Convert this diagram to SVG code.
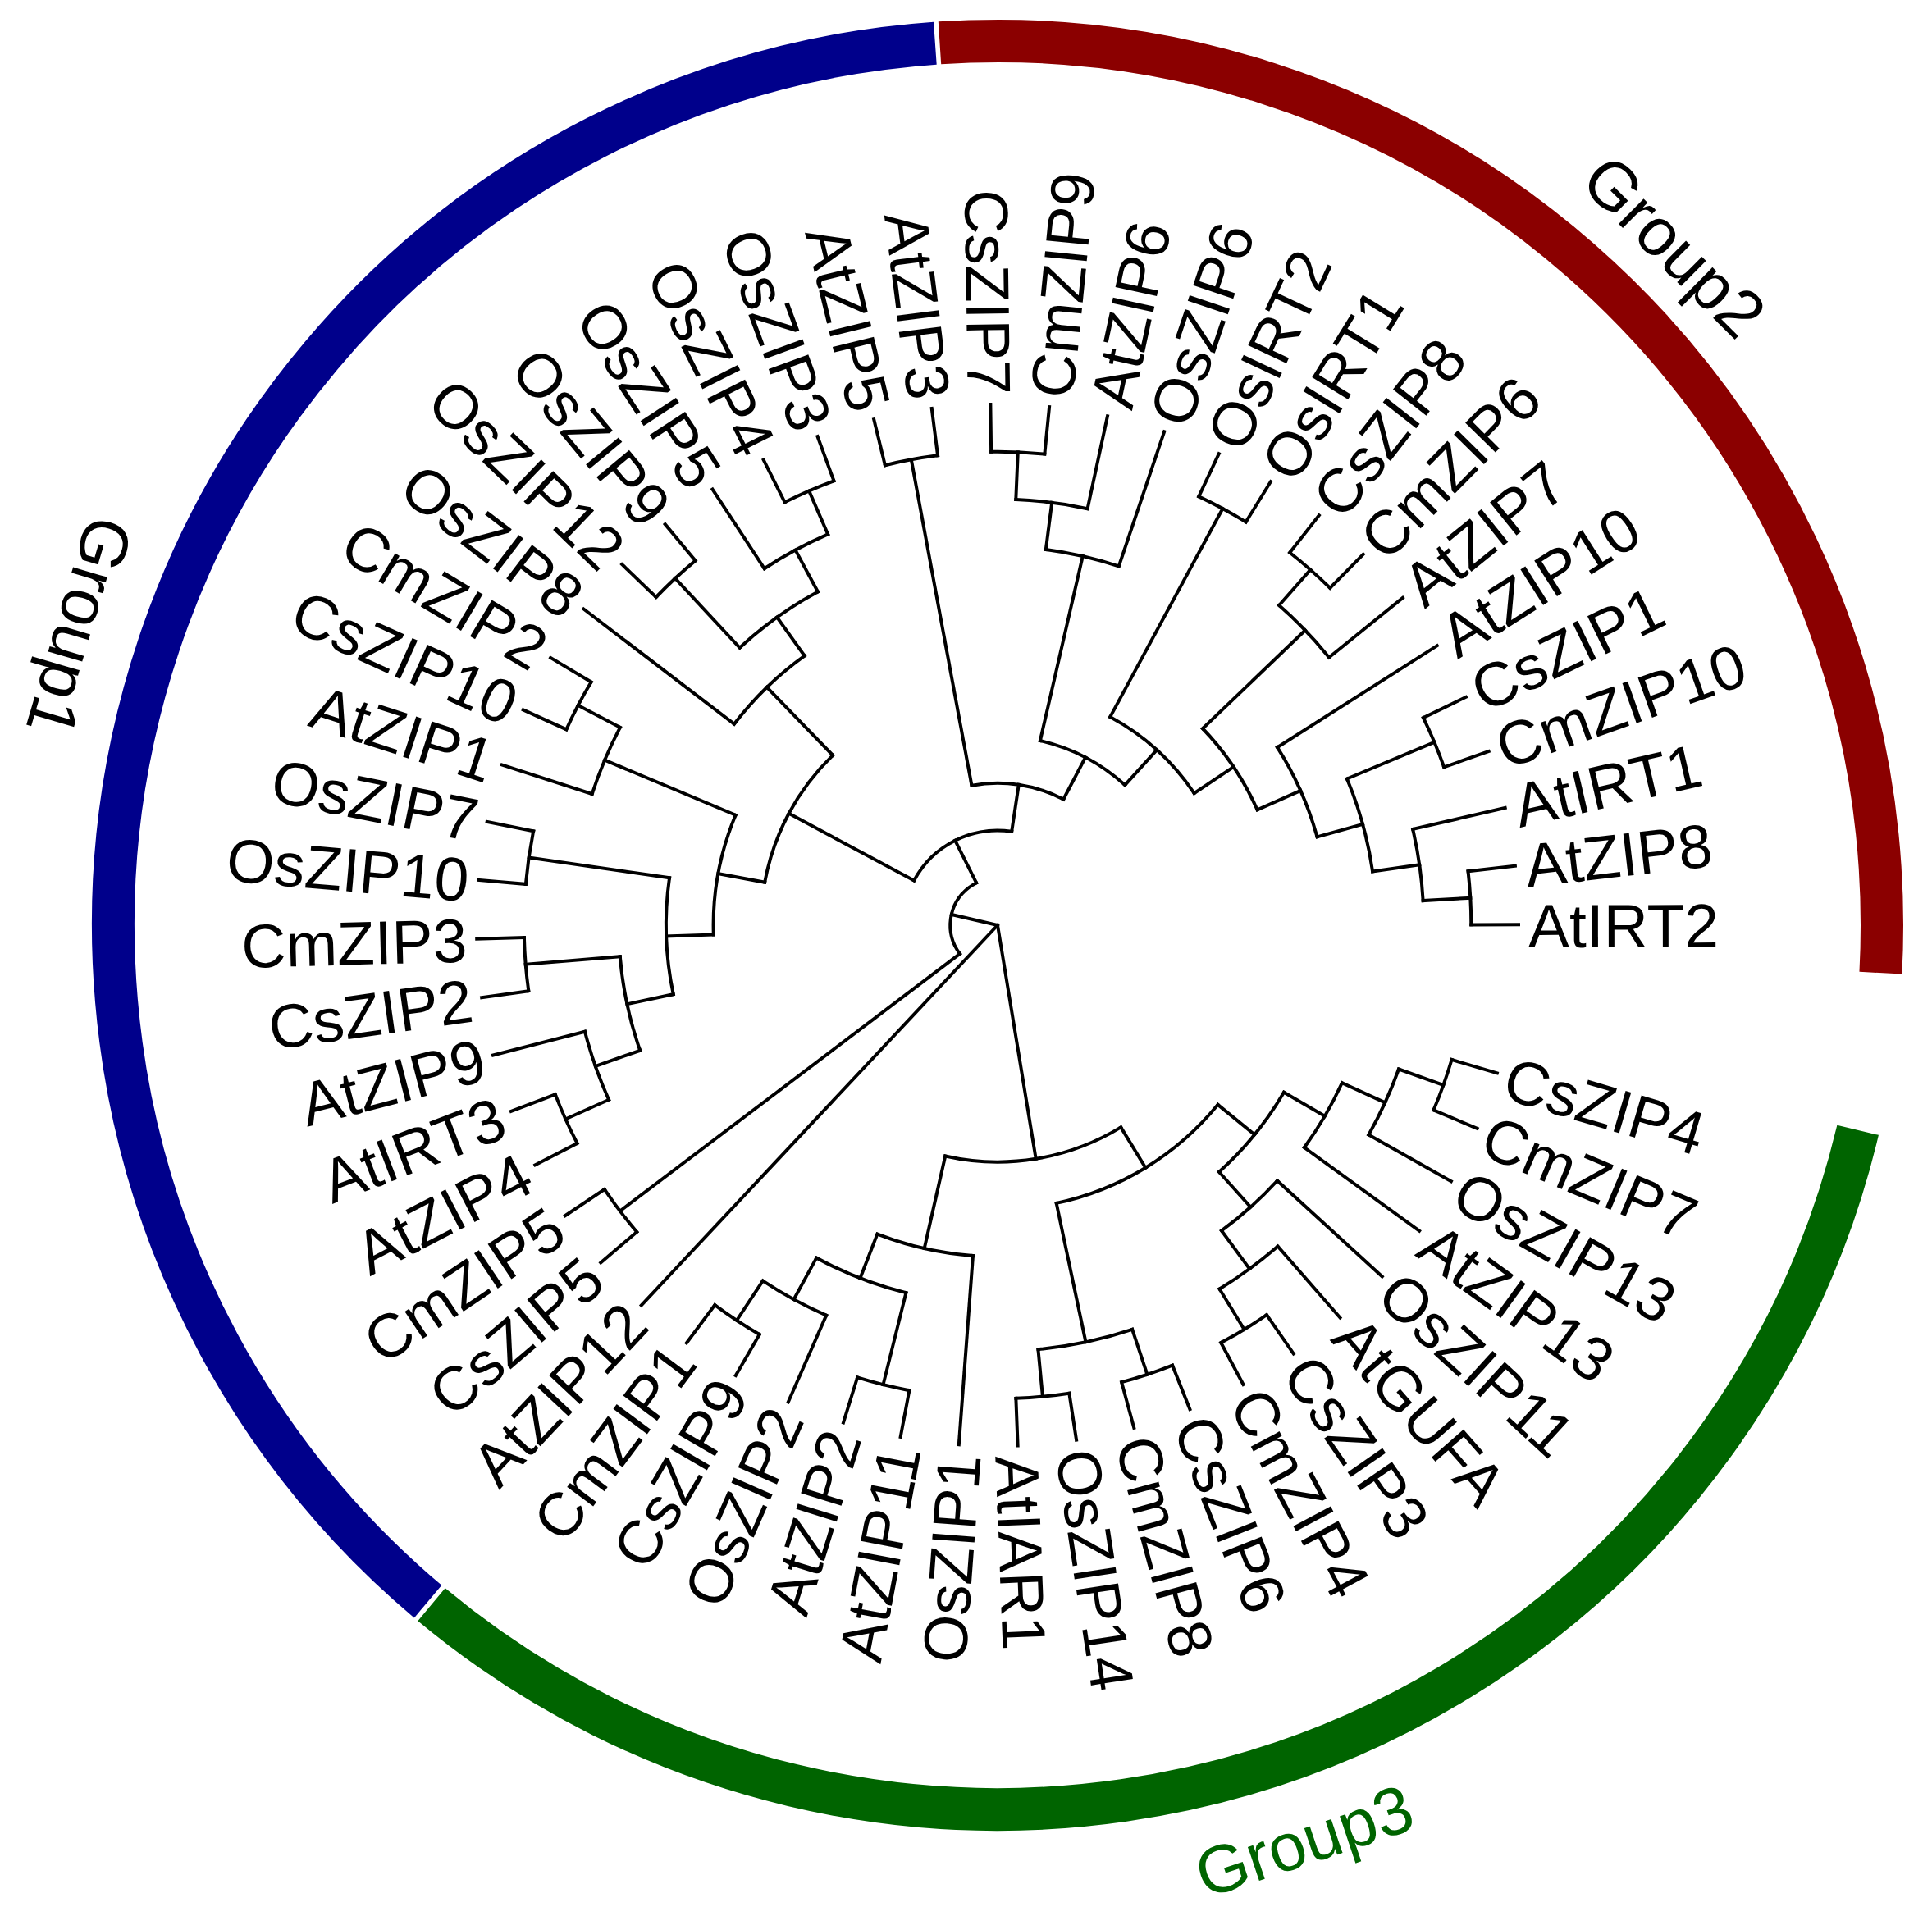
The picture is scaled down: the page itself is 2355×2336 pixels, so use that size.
<svg xmlns="http://www.w3.org/2000/svg" width="2355" height="2336" viewBox="0 0 2355 2336">
<style>
.br{fill:none;stroke:#000;stroke-width:4;stroke-linecap:square}
.band{fill:none;stroke-width:52;stroke-linecap:butt}
.lb{font-family:"Liberation Sans",Arial,Helvetica,sans-serif;font-size:75px;fill:#000}
.gl{font-family:"Liberation Sans",Arial,Helvetica,sans-serif;font-size:82px}
</style>
<rect width="2355" height="2336" fill="#fff"/>
<g id="group-bands" transform="translate(1216,1128)">
<circle class="band" stroke="#00008B" r="1078" pathLength="360" stroke-dasharray="135.85 400" transform="rotate(130.1)"/>
<circle class="band" stroke="#8B0000" r="1078" pathLength="360" stroke-dasharray="96.85 400" transform="rotate(266.25)"/>
<circle class="band" stroke="#006400" r="1078" pathLength="360" stroke-dasharray="116.4 400" transform="rotate(13.4)"/>
</g>
<g id="group-labels">
<g id="label-Group1"><text class="gl" fill="#000" text-anchor="middle" transform="translate(70,756) rotate(106.5)">Group1</text></g>
<g id="label-Group2"><text class="gl" fill="#000" text-anchor="middle" transform="translate(1216,1128) rotate(314.9) translate(1140,0) rotate(90)">Group2</text></g>
<g id="label-Group3"><text class="gl" fill="#006400" text-anchor="middle" transform="translate(1216,1128) rotate(71.5) translate(1206,0) rotate(-90)">Group3</text></g>
</g>
<g id="connectors" class="br" transform="translate(1216,1128)">
<circle r="288.6" pathLength="360" stroke-dasharray="44.145 400" transform="rotate(58.62)"/>
<circle r="346.4" pathLength="360" stroke-dasharray="38.88 400" transform="rotate(39.18)"/>
<circle r="404.1" pathLength="360" stroke-dasharray="17.01 400" transform="rotate(94.26)"/>
<circle r="404.1" pathLength="360" stroke-dasharray="17.82 400" transform="rotate(30.27)"/>
<circle r="519.5" pathLength="360" stroke-dasharray="12.96 400" transform="rotate(71.58)"/>
<circle r="461.8" pathLength="360" stroke-dasharray="11.34 400" transform="rotate(24.6)"/>
<circle r="461.8" pathLength="360" stroke-dasharray="11.34 400" transform="rotate(42.42)"/>
<circle r="519.5" pathLength="360" stroke-dasharray="9.72 400" transform="rotate(19.74)"/>
<circle r="577.3" pathLength="360" stroke-dasharray="6.48 400" transform="rotate(16.5)"/>
<circle r="519.5" pathLength="360" stroke-dasharray="9.72 400" transform="rotate(48.9)"/>
<circle r="577.3" pathLength="360" stroke-dasharray="6.48 400" transform="rotate(55.38)"/>
<circle r="577.3" pathLength="360" stroke-dasharray="6.48 400" transform="rotate(68.34)"/>
<circle r="577.3" pathLength="360" stroke-dasharray="6.48 400" transform="rotate(81.3)"/>
<circle r="461.8" pathLength="360" stroke-dasharray="14.58 400" transform="rotate(103.98)"/>
<circle r="577.3" pathLength="360" stroke-dasharray="6.48 400" transform="rotate(100.74)"/>
<circle r="519.5" pathLength="360" stroke-dasharray="9.72 400" transform="rotate(113.7)"/>
<circle r="577.3" pathLength="360" stroke-dasharray="6.48 400" transform="rotate(120.18)"/>
<circle r="57.7" pathLength="360" stroke-dasharray="100.5 400" transform="rotate(142.86)"/>
<circle r="577.3" pathLength="360" stroke-dasharray="6.48 400" transform="rotate(139.62)"/>
<circle r="115.5" pathLength="360" stroke-dasharray="70.394 400" transform="rotate(208.166)"/>
<circle r="288.6" pathLength="360" stroke-dasharray="35.4375 400" transform="rotate(190.4475)"/>
<circle r="346.4" pathLength="360" stroke-dasharray="24.705 400" transform="rotate(178.095)"/>
<circle r="404.1" pathLength="360" stroke-dasharray="17.01 400" transform="rotate(217.38)"/>
<circle r="404.1" pathLength="360" stroke-dasharray="20.25 400" transform="rotate(167.97)"/>
<circle r="519.5" pathLength="360" stroke-dasharray="9.72 400" transform="rotate(197.94)"/>
<circle r="461.8" pathLength="360" stroke-dasharray="14.58 400" transform="rotate(160.68)"/>
<circle r="577.3" pathLength="360" stroke-dasharray="6.48 400" transform="rotate(184.98)"/>
<circle r="519.5" pathLength="360" stroke-dasharray="9.72 400" transform="rotate(155.82)"/>
<circle r="577.3" pathLength="360" stroke-dasharray="6.48 400" transform="rotate(172.02)"/>
<circle r="577.3" pathLength="360" stroke-dasharray="6.48 400" transform="rotate(152.58)"/>
<circle r="577.3" pathLength="360" stroke-dasharray="6.48 400" transform="rotate(204.42)"/>
<circle r="461.8" pathLength="360" stroke-dasharray="14.58 400" transform="rotate(227.1)"/>
<circle r="577.3" pathLength="360" stroke-dasharray="6.48 400" transform="rotate(223.86)"/>
<circle r="519.5" pathLength="360" stroke-dasharray="9.72 400" transform="rotate(236.82)"/>
<circle r="577.3" pathLength="360" stroke-dasharray="6.48 400" transform="rotate(243.3)"/>
<circle r="173.2" pathLength="360" stroke-dasharray="38.12 400" transform="rotate(259.5)"/>
<circle r="577.3" pathLength="360" stroke-dasharray="6.48 400" transform="rotate(256.26)"/>
<circle r="230.9" pathLength="360" stroke-dasharray="29.26 400" transform="rotate(282.99)"/>
<circle r="461.8" pathLength="360" stroke-dasharray="11.34 400" transform="rotate(277.32)"/>
<circle r="519.5" pathLength="360" stroke-dasharray="9.72 400" transform="rotate(272.46)"/>
<circle r="577.3" pathLength="360" stroke-dasharray="6.48 400" transform="rotate(269.22)"/>
<circle r="288.6" pathLength="360" stroke-dasharray="27.7425 400" transform="rotate(298.38)"/>
<circle r="577.3" pathLength="360" stroke-dasharray="6.48 400" transform="rotate(295.14)"/>
<circle r="346.4" pathLength="360" stroke-dasharray="19.845 400" transform="rotate(316.2)"/>
<circle r="519.5" pathLength="360" stroke-dasharray="9.72 400" transform="rotate(311.34)"/>
<circle r="577.3" pathLength="360" stroke-dasharray="6.48 400" transform="rotate(308.1)"/>
<circle r="404.1" pathLength="360" stroke-dasharray="17.01 400" transform="rotate(327.54)"/>
<circle r="461.8" pathLength="360" stroke-dasharray="14.58 400" transform="rotate(337.26)"/>
<circle r="577.3" pathLength="360" stroke-dasharray="6.48 400" transform="rotate(334.02)"/>
<circle r="519.5" pathLength="360" stroke-dasharray="9.72 400" transform="rotate(346.98)"/>
<circle r="577.3" pathLength="360" stroke-dasharray="6.48 400" transform="rotate(353.46)"/>
<line x1="0" x2="288.6" transform="rotate(80.69)"/>
<line x1="0" x2="57.7" transform="rotate(193.11)"/>
<line x1="288.6" x2="346.4" transform="rotate(58.62)"/>
<line x1="288.6" x2="404.1" transform="rotate(102.765)"/>
<line x1="346.4" x2="404.1" transform="rotate(39.18)"/>
<line x1="346.4" x2="519.5" transform="rotate(78.06)"/>
<line x1="404.1" x2="461.8" transform="rotate(30.27)"/>
<line x1="404.1" x2="461.8" transform="rotate(48.09)"/>
<line x1="461.8" x2="519.5" transform="rotate(24.6)"/>
<line x1="519.5" x2="577.3" transform="rotate(19.74)"/>
<line x1="461.8" x2="519.5" transform="rotate(53.76)"/>
<line x1="519.5" x2="577.3" transform="rotate(58.62)"/>
<line x1="519.5" x2="577.3" transform="rotate(71.58)"/>
<line x1="519.5" x2="577.3" transform="rotate(84.54)"/>
<line x1="404.1" x2="461.8" transform="rotate(111.27)"/>
<line x1="461.8" x2="577.3" transform="rotate(103.98)"/>
<line x1="461.8" x2="519.5" transform="rotate(118.56)"/>
<line x1="519.5" x2="577.3" transform="rotate(123.42)"/>
<line x1="57.7" x2="577.3" transform="rotate(142.86)"/>
<line x1="57.7" x2="115.5" transform="rotate(243.36)"/>
<line x1="115.5" x2="288.6" transform="rotate(208.166)"/>
<line x1="288.6" x2="346.4" transform="rotate(190.4475)"/>
<line x1="288.6" x2="404.1" transform="rotate(225.885)"/>
<line x1="346.4" x2="404.1" transform="rotate(178.095)"/>
<line x1="346.4" x2="519.5" transform="rotate(202.8)"/>
<line x1="404.1" x2="461.8" transform="rotate(167.97)"/>
<line x1="404.1" x2="577.3" transform="rotate(188.22)"/>
<line x1="461.8" x2="519.5" transform="rotate(160.68)"/>
<line x1="461.8" x2="577.3" transform="rotate(175.26)"/>
<line x1="519.5" x2="577.3" transform="rotate(155.82)"/>
<line x1="519.5" x2="577.3" transform="rotate(207.66)"/>
<line x1="404.1" x2="461.8" transform="rotate(234.39)"/>
<line x1="461.8" x2="577.3" transform="rotate(227.1)"/>
<line x1="461.8" x2="519.5" transform="rotate(241.68)"/>
<line x1="519.5" x2="577.3" transform="rotate(246.54)"/>
<line x1="115.5" x2="173.2" transform="rotate(278.56)"/>
<line x1="173.2" x2="577.3" transform="rotate(259.5)"/>
<line x1="173.2" x2="230.9" transform="rotate(297.62)"/>
<line x1="230.9" x2="461.8" transform="rotate(282.99)"/>
<line x1="461.8" x2="519.5" transform="rotate(277.32)"/>
<line x1="519.5" x2="577.3" transform="rotate(272.46)"/>
<line x1="230.9" x2="288.6" transform="rotate(312.25)"/>
<line x1="288.6" x2="577.3" transform="rotate(298.38)"/>
<line x1="288.6" x2="346.4" transform="rotate(326.1225)"/>
<line x1="346.4" x2="519.5" transform="rotate(316.2)"/>
<line x1="519.5" x2="577.3" transform="rotate(311.34)"/>
<line x1="346.4" x2="404.1" transform="rotate(336.045)"/>
<line x1="404.1" x2="461.8" transform="rotate(344.55)"/>
<line x1="461.8" x2="577.3" transform="rotate(337.26)"/>
<line x1="461.8" x2="519.5" transform="rotate(351.84)"/>
<line x1="519.5" x2="577.3" transform="rotate(356.7)"/>
<line x1="577.3" x2="635" transform="rotate(16.5)"/>
<line x1="577.3" x2="635" transform="rotate(22.98)"/>
<line x1="519.5" x2="635" transform="rotate(29.46)"/>
<line x1="461.8" x2="635" transform="rotate(35.94)"/>
<line x1="461.8" x2="635" transform="rotate(42.42)"/>
<line x1="519.5" x2="635" transform="rotate(48.9)"/>
<line x1="577.3" x2="635" transform="rotate(55.38)"/>
<line x1="577.3" x2="635" transform="rotate(61.86)"/>
<line x1="577.3" x2="635" transform="rotate(68.34)"/>
<line x1="577.3" x2="635" transform="rotate(74.82)"/>
<line x1="577.3" x2="635" transform="rotate(81.3)"/>
<line x1="577.3" x2="635" transform="rotate(87.78)"/>
<line x1="404.1" x2="635" transform="rotate(94.26)"/>
<line x1="577.3" x2="635" transform="rotate(100.74)"/>
<line x1="577.3" x2="635" transform="rotate(107.22)"/>
<line x1="519.5" x2="635" transform="rotate(113.7)"/>
<line x1="577.3" x2="635" transform="rotate(120.18)"/>
<line x1="577.3" x2="635" transform="rotate(126.66)"/>
<line x1="0" x2="635" transform="rotate(133.14)"/>
<line x1="577.3" x2="635" transform="rotate(139.62)"/>
<line x1="577.3" x2="635" transform="rotate(146.1)"/>
<line x1="577.3" x2="635" transform="rotate(152.58)"/>
<line x1="577.3" x2="635" transform="rotate(159.06)"/>
<line x1="519.5" x2="635" transform="rotate(165.54)"/>
<line x1="577.3" x2="635" transform="rotate(172.02)"/>
<line x1="577.3" x2="635" transform="rotate(178.5)"/>
<line x1="577.3" x2="635" transform="rotate(184.98)"/>
<line x1="577.3" x2="635" transform="rotate(191.46)"/>
<line x1="519.5" x2="635" transform="rotate(197.94)"/>
<line x1="577.3" x2="635" transform="rotate(204.42)"/>
<line x1="577.3" x2="635" transform="rotate(210.9)"/>
<line x1="404.1" x2="635" transform="rotate(217.38)"/>
<line x1="577.3" x2="635" transform="rotate(223.86)"/>
<line x1="577.3" x2="635" transform="rotate(230.34)"/>
<line x1="519.5" x2="635" transform="rotate(236.82)"/>
<line x1="577.3" x2="635" transform="rotate(243.3)"/>
<line x1="577.3" x2="635" transform="rotate(249.78)"/>
<line x1="577.3" x2="635" transform="rotate(256.26)"/>
<line x1="577.3" x2="635" transform="rotate(262.74)"/>
<line x1="577.3" x2="635" transform="rotate(269.22)"/>
<line x1="577.3" x2="635" transform="rotate(275.7)"/>
<line x1="519.5" x2="635" transform="rotate(282.18)"/>
<line x1="461.8" x2="635" transform="rotate(288.66)"/>
<line x1="577.3" x2="635" transform="rotate(295.14)"/>
<line x1="577.3" x2="635" transform="rotate(301.62)"/>
<line x1="577.3" x2="635" transform="rotate(308.1)"/>
<line x1="577.3" x2="635" transform="rotate(314.58)"/>
<line x1="519.5" x2="635" transform="rotate(321.06)"/>
<line x1="404.1" x2="635" transform="rotate(327.54)"/>
<line x1="577.3" x2="635" transform="rotate(334.02)"/>
<line x1="577.3" x2="635" transform="rotate(340.5)"/>
<line x1="519.5" x2="635" transform="rotate(346.98)"/>
<line x1="577.3" x2="635" transform="rotate(353.46)"/>
<line x1="577.3" x2="635" transform="rotate(359.94)"/>
</g>
<g id="leaves" class="lb" transform="translate(1216,1128)">
<g id="leaf-CsZIP4"><text x="647" dy="0.37em" transform="rotate(16.5)">CsZIP4</text></g>
<g id="leaf-CmZIP7"><text x="647" dy="0.37em" transform="rotate(22.98)">CmZIP7</text></g>
<g id="leaf-OsZIP13"><text x="647" dy="0.37em" transform="rotate(29.46)">OsZIP13</text></g>
<g id="leaf-AtZIP13"><text x="647" dy="0.37em" transform="rotate(35.94)">AtZIP13</text></g>
<g id="leaf-OsZIP11"><text x="647" dy="0.37em" transform="rotate(42.42)">OsZIP11</text></g>
<g id="leaf-AtGUFA"><text x="647" dy="0.37em" transform="rotate(48.9)">AtGUFA</text></g>
<g id="leaf-CsZIP3"><text x="647" dy="0.37em" transform="rotate(55.38)">CsZIP3</text></g>
<g id="leaf-CmZIP4"><text x="647" dy="0.37em" transform="rotate(61.86)">CmZIP4</text></g>
<g id="leaf-CsZIP6"><text x="647" dy="0.37em" transform="rotate(68.34)">CsZIP6</text></g>
<g id="leaf-CmZIP8"><text x="647" dy="0.37em" transform="rotate(74.82)">CmZIP8</text></g>
<g id="leaf-OsZIP14"><text x="647" dy="0.37em" transform="rotate(81.3)">OsZIP14</text></g>
<g id="leaf-AtIAR1"><text x="647" dy="0.37em" transform="rotate(87.78)">AtIAR1</text></g>
<g id="leaf-OsZIP1"><text x="-647" dy="0.37em" text-anchor="end" transform="rotate(274.26)">OsZIP1</text></g>
<g id="leaf-AtZIP11"><text x="-647" dy="0.37em" text-anchor="end" transform="rotate(280.74)">AtZIP11</text></g>
<g id="leaf-AtZIP2"><text x="-647" dy="0.37em" text-anchor="end" transform="rotate(287.22)">AtZIP2</text></g>
<g id="leaf-OsZIP2"><text x="-647" dy="0.37em" text-anchor="end" transform="rotate(293.7)">OsZIP2</text></g>
<g id="leaf-CsZIP9"><text x="-647" dy="0.37em" text-anchor="end" transform="rotate(300.18)">CsZIP9</text></g>
<g id="leaf-CmZIP1"><text x="-647" dy="0.37em" text-anchor="end" transform="rotate(306.66)">CmZIP1</text></g>
<g id="leaf-AtZIP12"><text x="-647" dy="0.37em" text-anchor="end" transform="rotate(313.14)">AtZIP12</text></g>
<g id="leaf-CsZIP5"><text x="-647" dy="0.37em" text-anchor="end" transform="rotate(319.62)">CsZIP5</text></g>
<g id="leaf-CmZIP5"><text x="-647" dy="0.37em" text-anchor="end" transform="rotate(326.1)">CmZIP5</text></g>
<g id="leaf-AtZIP4"><text x="-647" dy="0.37em" text-anchor="end" transform="rotate(332.58)">AtZIP4</text></g>
<g id="leaf-AtIRT3"><text x="-647" dy="0.37em" text-anchor="end" transform="rotate(339.06)">AtIRT3</text></g>
<g id="leaf-AtZIP9"><text x="-647" dy="0.37em" text-anchor="end" transform="rotate(345.54)">AtZIP9</text></g>
<g id="leaf-CsZIP2"><text x="-647" dy="0.37em" text-anchor="end" transform="rotate(352.02)">CsZIP2</text></g>
<g id="leaf-CmZIP3"><text x="-647" dy="0.37em" text-anchor="end" transform="rotate(358.5)">CmZIP3</text></g>
<g id="leaf-OsZIP10"><text x="-647" dy="0.37em" text-anchor="end" transform="rotate(4.98)">OsZIP10</text></g>
<g id="leaf-OsZIP7"><text x="-647" dy="0.37em" text-anchor="end" transform="rotate(11.46)">OsZIP7</text></g>
<g id="leaf-AtZIP1"><text x="-647" dy="0.37em" text-anchor="end" transform="rotate(17.94)">AtZIP1</text></g>
<g id="leaf-CsZIP10"><text x="-647" dy="0.37em" text-anchor="end" transform="rotate(24.42)">CsZIP10</text></g>
<g id="leaf-CmZIP2"><text x="-647" dy="0.37em" text-anchor="end" transform="rotate(30.9)">CmZIP2</text></g>
<g id="leaf-OsZIP8"><text x="-647" dy="0.37em" text-anchor="end" transform="rotate(37.38)">OsZIP8</text></g>
<g id="leaf-OsZIP12"><text x="-647" dy="0.37em" text-anchor="end" transform="rotate(43.86)">OsZIP12</text></g>
<g id="leaf-OsZIP9"><text x="-647" dy="0.37em" text-anchor="end" transform="rotate(50.34)">OsZIP9</text></g>
<g id="leaf-OsZIP5"><text x="-647" dy="0.37em" text-anchor="end" transform="rotate(56.82)">OsZIP5</text></g>
<g id="leaf-OsZIP4"><text x="-647" dy="0.37em" text-anchor="end" transform="rotate(63.3)">OsZIP4</text></g>
<g id="leaf-OsZIP3"><text x="-647" dy="0.37em" text-anchor="end" transform="rotate(69.78)">OsZIP3</text></g>
<g id="leaf-AtZIP5"><text x="-647" dy="0.37em" text-anchor="end" transform="rotate(76.26)">AtZIP5</text></g>
<g id="leaf-AtZIP3"><text x="-647" dy="0.37em" text-anchor="end" transform="rotate(82.74)">AtZIP3</text></g>
<g id="leaf-CsZIP7"><text x="-647" dy="0.37em" text-anchor="end" transform="rotate(89.22)">CsZIP7</text></g>
<g id="leaf-CmZIP9"><text x="647" dy="0.37em" transform="rotate(275.7)">CmZIP9</text></g>
<g id="leaf-AtZIP6"><text x="647" dy="0.37em" transform="rotate(282.18)">AtZIP6</text></g>
<g id="leaf-OsZIP6"><text x="647" dy="0.37em" transform="rotate(288.66)">OsZIP6</text></g>
<g id="leaf-OsIRT2"><text x="647" dy="0.37em" transform="rotate(295.14)">OsIRT2</text></g>
<g id="leaf-OsIRT1"><text x="647" dy="0.37em" transform="rotate(301.62)">OsIRT1</text></g>
<g id="leaf-CsZIP8"><text x="647" dy="0.37em" transform="rotate(308.1)">CsZIP8</text></g>
<g id="leaf-CmZIP6"><text x="647" dy="0.37em" transform="rotate(314.58)">CmZIP6</text></g>
<g id="leaf-AtZIP7"><text x="647" dy="0.37em" transform="rotate(321.06)">AtZIP7</text></g>
<g id="leaf-AtZIP10"><text x="647" dy="0.37em" transform="rotate(327.54)">AtZIP10</text></g>
<g id="leaf-CsZIP1"><text x="647" dy="0.37em" transform="rotate(334.02)">CsZIP1</text></g>
<g id="leaf-CmZIP10"><text x="647" dy="0.37em" transform="rotate(340.5)">CmZIP10</text></g>
<g id="leaf-AtIRT1"><text x="647" dy="0.37em" transform="rotate(346.98)">AtIRT1</text></g>
<g id="leaf-AtZIP8"><text x="647" dy="0.37em" transform="rotate(353.46)">AtZIP8</text></g>
<g id="leaf-AtIRT2"><text x="647" dy="0.37em" transform="rotate(359.94)">AtIRT2</text></g>
</g>
</svg>
